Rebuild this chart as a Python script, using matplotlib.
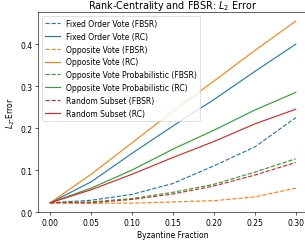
import matplotlib
matplotlib.use("Agg")
import matplotlib.pyplot as plt

byz_frac = [0.0, 0.05, 0.10, 0.15, 0.20, 0.25, 0.30]

fixed_fbsr = [0.022, 0.028, 0.042, 0.068, 0.110, 0.155, 0.225]
fixed_rc = [0.022, 0.072, 0.140, 0.205, 0.268, 0.335, 0.400]
opp_fbsr = [0.022, 0.021, 0.021, 0.024, 0.027, 0.036, 0.057]
opp_rc = [0.022, 0.090, 0.165, 0.240, 0.312, 0.385, 0.455]
oppprob_fbsr = [0.022, 0.024, 0.032, 0.047, 0.066, 0.095, 0.127]
oppprob_rc = [0.022, 0.057, 0.100, 0.150, 0.195, 0.243, 0.285]
rand_fbsr = [0.022, 0.022, 0.030, 0.043, 0.062, 0.088, 0.118]
rand_rc = [0.022, 0.053, 0.090, 0.130, 0.168, 0.210, 0.245]

series = [
    ("Fixed Order Vote", fixed_fbsr, fixed_rc, "C0"),
    ("Opposite Vote", opp_fbsr, opp_rc, "C1"),
    ("Opposite Vote Probabilistic", oppprob_fbsr, oppprob_rc, "C2"),
    ("Random Subset", rand_fbsr, rand_rc, "C3"),
]

# small dpi so default font sizes come out at the reference's scale
dpi = 55
fig = plt.figure(figsize=(305 / dpi, 245 / dpi), dpi=dpi)
ax = fig.add_axes([38 / 305, 31.7 / 245, 270 / 305, 200.3 / 245])

for name, fb, rc, c in series:
    ax.plot(byz_frac, fb, "--", color=c, label=name + " (FBSR)")
    ax.plot(byz_frac, rc, "-", color=c, label=name + " (RC)")

ax.set_title("Rank-Centrality and FBSR: $L_2$ Error", fontsize=12.6, pad=5)
ax.set_xlabel("Byzantine Fraction")
ax.set_ylabel("$L_2$-Error")
ax.set_xticks(byz_frac)
ax.set_yticks([0.0, 0.1, 0.2, 0.3, 0.4])
ax.legend(loc="upper left")

fig.savefig("out.png", dpi=dpi)
